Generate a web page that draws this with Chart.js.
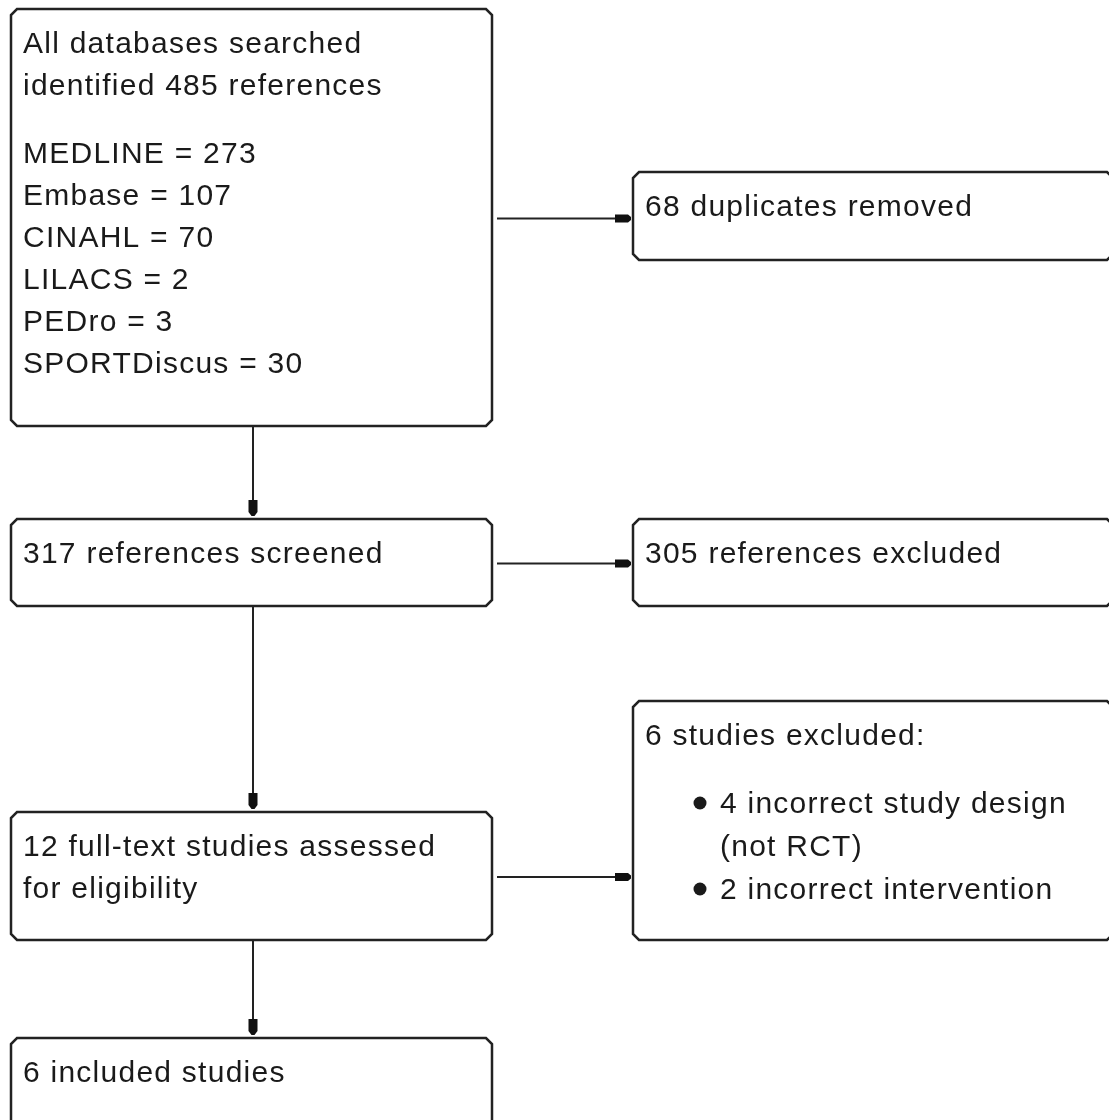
<!DOCTYPE html>
<html>
<head>
<meta charset="utf-8">
<script src="https://cdn.jsdelivr.net/npm/chart.js@4.4.1/dist/chart.umd.min.js"></script>
<style>
  html, body { margin: 0; padding: 0; background: #ffffff; }
  #flow { display: block; }
</style>
</head>
<body>
<canvas id="flow" width="1109" height="1120"></canvas>
<script>
// flow counts
const databases = ['MEDLINE', 'Embase', 'CINAHL', 'LILACS', 'PEDro', 'SPORTDiscus'];
const databaseCounts = [273, 107, 70, 2, 3, 30];
const totalIdentified = 485;
const duplicatesRemoved = 68;
const screened = 317;
const screenExcluded = 305;
const fullTextAssessed = 12;
const reasonCounts = [4, 2];
const reasonLines = [['incorrect study design', '(not RCT)'], ['incorrect intervention']];
const fullTextExcluded = 6;
const includedStudies = 6;

// box layout (page units), text is built from the values above
const boxes = [
    { id: 'search', x: 11, y: 9, w: 481, h: 417,
      paras: [['All databases searched', 'identified ' + totalIdentified + ' references'],
              databases.map((d, i) => d + ' = ' + databaseCounts[i])] },
    { id: 'dup', x: 633, y: 172, w: 480, h: 88,
      paras: [[duplicatesRemoved + ' duplicates removed']] },
    { id: 'screen', x: 11, y: 519, w: 481, h: 87,
      paras: [[screened + ' references screened']] },
    { id: 'screenEx', x: 633, y: 519, w: 480, h: 87,
      paras: [[screenExcluded + ' references excluded']] },
    { id: 'fullEx', x: 633, y: 701, w: 480, h: 239,
      paras: [[fullTextExcluded + ' studies excluded:']],
      bullets: reasonCounts.map((c, i) => [c + ' ' + reasonLines[i][0]].concat(reasonLines[i].slice(1))) },
    { id: 'full', x: 11, y: 812, w: 481, h: 128,
      paras: [[fullTextAssessed + ' full-text studies assessed', 'for eligibility']] },
    { id: 'incl', x: 11, y: 1038, w: 481, h: 100,
      paras: [[includedStudies + ' included studies']] }
];

// arrows: from -> to
const links = [
    ['search', 'dup', 'right'],
    ['search', 'screen', 'down'],
    ['screen', 'screenEx', 'right'],
    ['screen', 'full', 'down'],
    ['full', 'fullEx', 'right'],
    ['full', 'incl', 'down']
];

const FONT = '30px "Liberation Sans", Arial, sans-serif';
const LINE = 42;
const PARA = 68;

const flowPlugin = {
    id: 'flowDiagram',
    afterDraw(chart) {
        const { ctx } = chart;
        const sx = chart.scales.x, sy = chart.scales.y;
        const X = v => sx.getPixelForValue(v);
        const Y = v => sy.getPixelForValue(v);
        const byId = {};
        boxes.forEach(b => byId[b.id] = b);

        ctx.save();
        ctx.strokeStyle = '#222222';
        ctx.lineWidth = 2.5;

        // boxes with cut corners
        boxes.forEach(b => {
            const c = 6;
            const l = X(b.x), r = X(b.x + b.w), t = Y(b.y), bt = Y(b.y + b.h);
            ctx.beginPath();
            ctx.moveTo(l + c, t);
            ctx.lineTo(r - c, t);
            ctx.lineTo(r, t + c);
            ctx.lineTo(r, bt - c);
            ctx.lineTo(r - c, bt);
            ctx.lineTo(l + c, bt);
            ctx.lineTo(l, bt - c);
            ctx.lineTo(l, t + c);
            ctx.closePath();
            ctx.stroke();
        });

        // arrows
        ctx.fillStyle = '#111111';
        ctx.lineWidth = 2;
        links.forEach(([a, b, dir]) => {
            const s = byId[a], d = byId[b];
            ctx.beginPath();
            if (dir === 'right') {
                const y = Y(s.y + s.h / 2 + 1);
                const x0 = X(s.x + s.w + 5), x1 = X(d.x - 2);
                ctx.moveTo(x0, y); ctx.lineTo(x1 - 12, y); ctx.stroke();
                ctx.beginPath();
                ctx.moveTo(x1 - 16, y - 4);
                ctx.lineTo(x1 - 3, y - 4);
                ctx.lineTo(x1, y - 1.5);
                ctx.lineTo(x1, y + 1.5);
                ctx.lineTo(x1 - 3, y + 4);
                ctx.lineTo(x1 - 16, y + 4);
                ctx.closePath();
                ctx.fill();
            } else {
                const x = X(253);
                const y0 = Y(s.y + s.h + 1), y1 = Y(d.y - 3);
                ctx.moveTo(x, y0); ctx.lineTo(x, y1 - 12); ctx.stroke();
                ctx.beginPath();
                ctx.moveTo(x - 4.5, y1 - 16);
                ctx.lineTo(x + 4.5, y1 - 16);
                ctx.lineTo(x + 4.5, y1 - 4);
                ctx.lineTo(x + 1.5, y1);
                ctx.lineTo(x - 1.5, y1);
                ctx.lineTo(x - 4.5, y1 - 4);
                ctx.closePath();
                ctx.fill();
            }
        });

        // texts
        ctx.font = FONT;
        ctx.fillStyle = '#1a1a1a';
        ctx.textBaseline = 'alphabetic';
        ctx.textAlign = 'left';
        if ('letterSpacing' in ctx) ctx.letterSpacing = '1.25px';
        boxes.forEach(b => {
            let y = b.y + 44;
            b.paras.forEach((p, pi) => {
                if (pi > 0) y += PARA - LINE;
                p.forEach(line => {
                    ctx.fillText(line, X(b.x + 12), Y(y));
                    y += LINE;
                });
            });
            if (b.bullets) {
                y += PARA - LINE;
                b.bullets.forEach(lines => {
                    ctx.beginPath();
                    ctx.arc(X(b.x + 67), Y(y - 10), 6.5, 0, Math.PI * 2);
                    ctx.fill();
                    lines.forEach(line => {
                        ctx.fillText(line, X(b.x + 87), Y(y));
                        y += LINE + 1;
                    });
                });
            }
        });
        ctx.restore();
    }
};

new Chart(document.getElementById('flow'), {
    type: 'scatter',
    data: { datasets: [{ data: [], showLine: false }] },
    options: {
        responsive: false,
        maintainAspectRatio: false,
        animation: false,
        devicePixelRatio: 1,
        layout: { padding: 0 },
        plugins: { legend: { display: false }, tooltip: { enabled: false } },
        scales: {
            x: { type: 'linear', min: 0, max: 1109, display: false },
            y: { type: 'linear', min: 0, max: 1120, reverse: true, display: false }
        }
    },
    plugins: [flowPlugin]
});
</script>
</body>
</html>
